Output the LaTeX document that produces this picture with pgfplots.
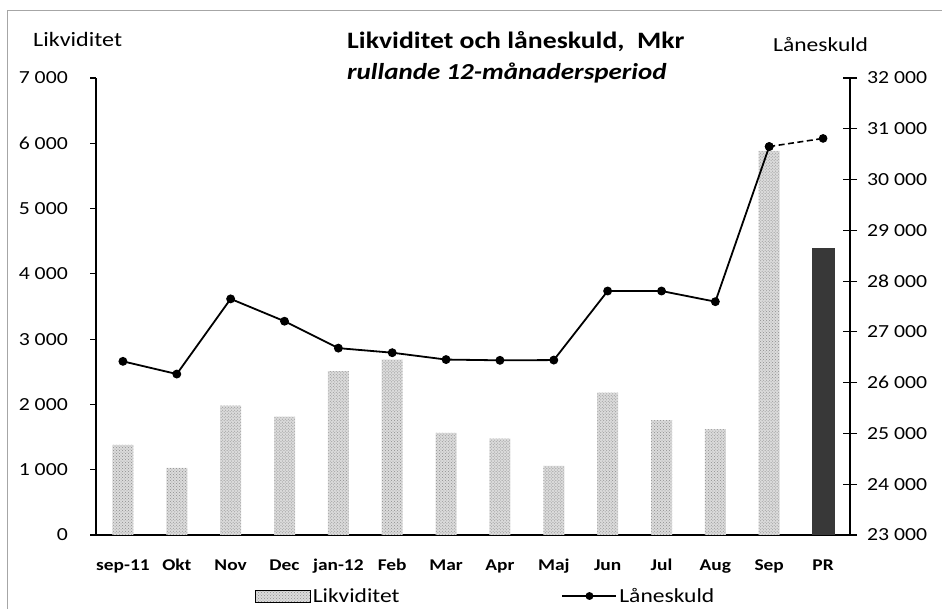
\documentclass[border=0pt]{standalone}
\usepackage{fontspec}
\setmainfont{Carlito}[FakeStretch=1.18]
\usepackage{pgfplots}
\pgfplotsset{compat=1.18}
\usetikzlibrary{patterns}
\begin{document}
\begin{tikzpicture}
\path[use as bounding box] (0bp,0bp) rectangle (942bp,609bp);
\draw[gray!70, line width=0.8bp] (7bp,0bp) -- (7bp,599bp) -- (942bp,599bp);
% titles and axis names
\node[anchor=west, inner sep=0pt, font=\fontsize{23.6}{26}\selectfont\bfseries] at (347bp,567bp) {Likviditet och låneskuld,\ \ Mkr};
\node[anchor=west, inner sep=0pt, font=\fontsize{23}{26}\selectfont\bfseries\itshape] at (347bp,536bp) {rullande 12-månadersperiod};
\node[anchor=west, inner sep=0pt, font=\fontsize{20.5}{22}\selectfont] at (33bp,570bp) {Likviditet};
\node[anchor=west, inner sep=0pt, font=\fontsize{20}{22}\selectfont] at (773bp,564bp) {Låneskuld};
\begin{axis}[
  at={(96bp,74bp)}, anchor=south west,
  scale only axis, width=754bp, height=457bp,
  xmin=-0.5, xmax=13.5, ymin=0, ymax=7000,
  axis x line*=bottom, axis y line*=left,
  axis line style={line width=1.5bp},
  xtick={0,...,13},
  xticklabels={sep-11,Okt,Nov,Dec,jan-12,Feb,Mar,Apr,Maj,Jun,Jul,Aug,Sep,PR},
  major x tick style={draw=none},
  x tick label style={font=\fontsize{16.5}{18}\selectfont\bfseries, anchor=base, inner sep=0pt, yshift=-29bp},
  ytick={0,1000,...,7000},
  tick align=outside, major tick length=6bp,
  major y tick style={draw=black, line width=1.2bp},
  y tick label style={font=\fontsize{18.5}{20}\selectfont, anchor=east, inner sep=0pt},
  yticklabel shift=22bp,
  scaled y ticks=false,
  /pgf/number format/assume math mode=true,
  /pgf/number format/1000 sep={\ },
]
\addplot[ybar, bar width=21bp, fill=black!14, draw=none,
  postaction={pattern=crosshatch dots, pattern color=black!45}] coordinates {
(0,1380) (1,1030) (2,1980) (3,1815) (4,2510) (5,2685) (6,1565)
(7,1475) (8,1060) (9,2180) (10,1760) (11,1620) (12,5885)};
\addplot[ybar, bar width=23bp, fill=black!78, draw=none] coordinates {(13,4390)};
\end{axis}
\begin{axis}[
  at={(96bp,74bp)}, anchor=south west,
  scale only axis, width=754bp, height=457bp,
  xmin=-0.5, xmax=13.5, ymin=23000, ymax=32000,
  axis x line=none, axis y line*=right,
  axis line style={line width=1.5bp},
  ytick={23000,24000,...,32000},
  tick align=center, major tick length=14bp,
  major y tick style={draw=black, line width=1.2bp},
  y tick label style={font=\fontsize{18.5}{20}\selectfont, anchor=west, inner sep=0pt},
  yticklabel shift=10bp,
  scaled y ticks=false,
  /pgf/number format/assume math mode=true,
  /pgf/number format/1000 sep={\ },
  legend columns=2,
  legend style={at={(0.517,-0.1335)}, anchor=center, draw=none, fill=none,
    font=\fontsize{20}{22}\selectfont,
    /tikz/every even column/.append style={column sep=160bp}},
]
\addlegendimage{legend image code/.code={\fill[black!14] (0bp,-6bp) rectangle (55bp,6bp);
  \fill[pattern=crosshatch dots, pattern color=black!45] (0bp,-6bp) rectangle (55bp,6bp);}}
\addlegendentry{Likviditet}
\addplot[black, line width=1.8bp, mark=*, mark size=3.5bp,
  legend image code/.code={\draw[black, line width=1.8bp] (0bp,0bp) -- (54bp,0bp); \fill[black] (27bp,0bp) circle (3bp);}]
coordinates {
(0,26420) (1,26170) (2,27650) (3,27210) (4,26680) (5,26590) (6,26455)
(7,26440) (8,26445) (9,27805) (10,27805) (11,27595) (12,30650)};
\addlegendentry{Låneskuld}
\addplot[black, line width=1.6bp, dash pattern=on 6bp off 3.5bp, mark=*, mark size=3.5bp, mark options={solid}, forget plot]
coordinates {(12,30650) (13,30810)};
\end{axis}
\end{tikzpicture}
\end{document}
